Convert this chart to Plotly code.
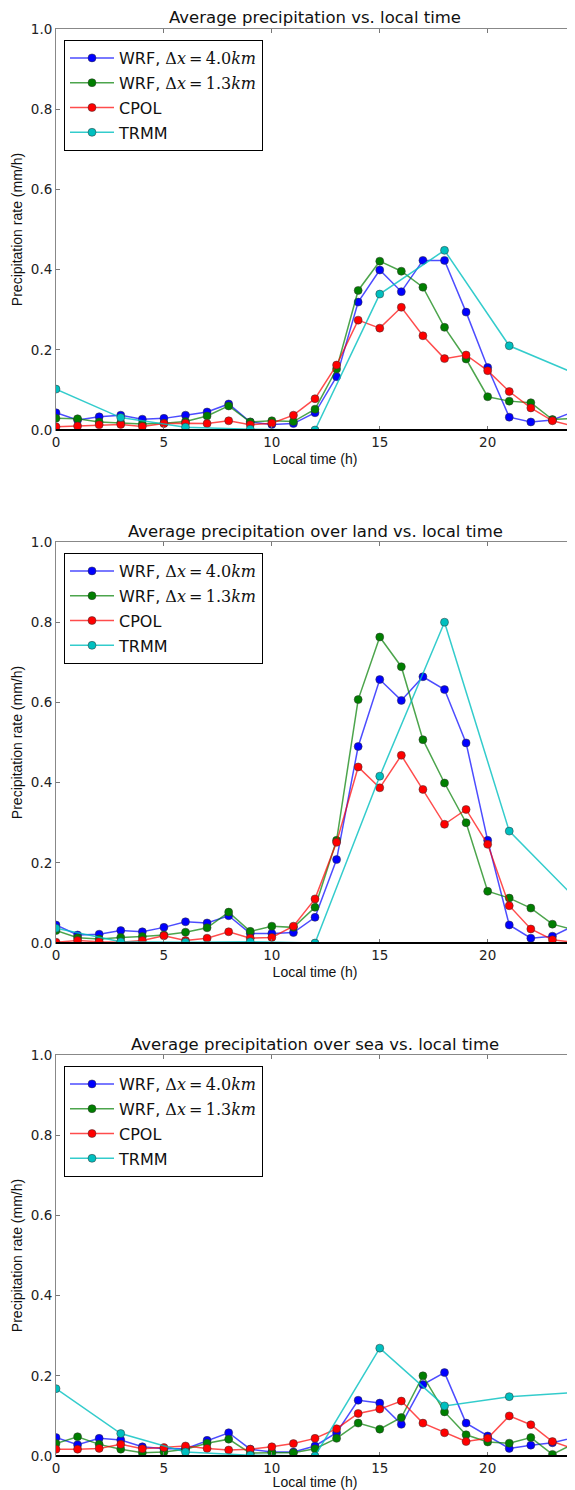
import plotly.graph_objects as go

hours = list(range(25))
trmm_hours = [0, 3, 6, 9, 12, 15, 18, 21, 24]

titles = [
    "Average precipitation vs. local time",
    "Average precipitation over land vs. local time",
    "Average precipitation over sea vs. local time",
]

# Panel 1: all
wrf40_all = [0.043, 0.025, 0.033, 0.037, 0.027, 0.029, 0.037, 0.045, 0.065, 0.020, 0.014, 0.016, 0.043,
             0.133, 0.319, 0.399, 0.345, 0.423, 0.423, 0.294, 0.156, 0.032, 0.020, 0.025, 0.046]
wrf13_all = [0.029, 0.028, 0.020, 0.018, 0.015, 0.017, 0.021, 0.035, 0.060, 0.020, 0.023, 0.021, 0.052,
             0.152, 0.348, 0.421, 0.396, 0.356, 0.256, 0.177, 0.083, 0.072, 0.068, 0.026, 0.029]
cpol_all = [0.008, 0.010, 0.013, 0.014, 0.009, 0.016, 0.017, 0.016, 0.023, 0.013, 0.017, 0.037, 0.078,
            0.162, 0.274, 0.254, 0.306, 0.235, 0.178, 0.187, 0.148, 0.096, 0.055, 0.023, 0.009]
trmm_all = [0.102, 0.031, 0.007, 0.002, 0.0, 0.339, 0.448, 0.210, 0.142]

# Panel 2: land
wrf40_land = [0.045, 0.020, 0.022, 0.031, 0.028, 0.039, 0.053, 0.050, 0.068, 0.024, 0.024, 0.026, 0.064,
              0.208, 0.490, 0.657, 0.605, 0.664, 0.632, 0.499, 0.256, 0.045, 0.012, 0.017, 0.043]
wrf13_land = [0.031, 0.013, 0.010, 0.014, 0.016, 0.020, 0.027, 0.038, 0.077, 0.029, 0.042, 0.039, 0.089,
              0.256, 0.607, 0.763, 0.689, 0.507, 0.399, 0.300, 0.129, 0.112, 0.087, 0.047, 0.033]
cpol_land = [0.002, 0.006, 0.003, 0.002, 0.006, 0.018, 0.006, 0.012, 0.028, 0.012, 0.014, 0.042, 0.110,
             0.251, 0.439, 0.387, 0.468, 0.383, 0.296, 0.333, 0.246, 0.093, 0.035, 0.008, 0.002]
trmm_land = [0.037, 0.003, 0.002, 0.003, 0.0, 0.416, 0.800, 0.279, 0.115]

# Panel 3: sea
wrf40_sea = [0.046, 0.028, 0.044, 0.040, 0.023, 0.018, 0.018, 0.039, 0.058, 0.017, 0.010, 0.010, 0.025,
             0.058, 0.139, 0.132, 0.079, 0.178, 0.208, 0.082, 0.050, 0.019, 0.027, 0.033, 0.046]
wrf13_sea = [0.031, 0.048, 0.029, 0.017, 0.008, 0.010, 0.017, 0.032, 0.042, 0.007, 0.008, 0.008, 0.018,
             0.044, 0.082, 0.067, 0.096, 0.200, 0.110, 0.053, 0.035, 0.032, 0.046, 0.004, 0.031]
cpol_sea = [0.017, 0.017, 0.019, 0.029, 0.018, 0.021, 0.025, 0.019, 0.015, 0.017, 0.023, 0.031, 0.044,
            0.068, 0.106, 0.117, 0.137, 0.082, 0.058, 0.036, 0.044, 0.100, 0.078, 0.036, 0.018]
trmm_sea = [0.168, 0.056, 0.010, 0.002, 0.0, 0.269, 0.125, 0.148, 0.158]

MATH = "<span style=\"font-family:'DejaVu Serif'\">Δ<i>x</i>\u2009=\u2009{}<i>km</i></span>"
series_names = [
    "WRF, " + MATH.format("4.0"),
    "WRF, " + MATH.format("1.3"),
    "CPOL",
    "TRMM",
]
marker_colors = ["#0000ff", "#007f00", "#ff0000", "#00bfbf"]
line_colors = ["rgba(0,0,255,0.7)", "rgba(0,127,0,0.7)", "rgba(255,0,0,0.7)", "rgba(0,191,191,0.8)"]

panels = [
    (wrf40_all, wrf13_all, cpol_all, trmm_all),
    (wrf40_land, wrf13_land, cpol_land, trmm_land),
    (wrf40_sea, wrf13_sea, cpol_sea, trmm_sea),
]

PAGE_OFF = 8  # default body margin of the html page
W, H = 575 - PAGE_OFF, 1490 - PAGE_OFF
x0_px, x1_px = 56 - PAGE_OFF, 574 - PAGE_OFF
tops = [29 - PAGE_OFF, 542 - PAGE_OFF, 1055 - PAGE_OFF]
plot_h = 401

fig = go.Figure()
layout = dict(
    template="none",
    width=W, height=H, margin=dict(l=0, r=0, t=0, b=0, autoexpand=False),
    paper_bgcolor="white", plot_bgcolor="white",
    showlegend=True, annotations=[], shapes=[],
)

for p, data in enumerate(panels):
    sfx = "" if p == 0 else str(p + 1)
    top = tops[p]
    bot = top + plot_h
    ydom = [1 - bot / H, 1 - top / H]
    xdom = [x0_px / W, x1_px / W]
    leg = "legend" if p == 0 else f"legend{p + 1}"
    for i, vals in enumerate(data):
        xs = trmm_hours if i == 3 else hours
        fig.add_trace(go.Scatter(
            x=xs, y=vals, mode="lines+markers", name=series_names[i],
            line=dict(color=line_colors[i], width=1.5),
            marker=dict(color=marker_colors[i], size=8, line=dict(color="#333333", width=0.5)),
            xaxis="x" + sfx, yaxis="y" + sfx, legend=leg, legendgroup=f"g{p}_{i}",
        ))
    layout["xaxis" + sfx] = dict(
        domain=xdom, range=[0, 24], anchor="y" + sfx, automargin=False,
        tickvals=[0, 5, 10, 15, 20], ticktext=["0", "5", "10", "15", "20"],
        ticks="inside", ticklen=4, tickcolor="#777777", mirror="ticks",
        showline=True, linecolor="#888888", linewidth=1, showgrid=False, zeroline=False,
        tickfont=dict(family="DejaVu Sans", size=13.5, color="#222222"),
        title=dict(text="Local time (h)", font=dict(family="Liberation Sans", size=14, color="#111111"), standoff=4),
    )
    layout["yaxis" + sfx] = dict(
        domain=ydom, range=[0, 1], anchor="x" + sfx, automargin=False,
        tickvals=[0, 0.2, 0.4, 0.6, 0.8, 1.0], ticktext=["0.0", "0.2", "0.4", "0.6", "0.8", "1.0"],
        ticks="inside", ticklen=4, tickcolor="#777777", mirror="ticks",
        showline=True, linecolor="#888888", linewidth=1, showgrid=False, zeroline=False,
        tickfont=dict(family="DejaVu Sans", size=13.5, color="#222222"),
        title=dict(text="Precipitation rate (mm/h)", font=dict(family="Liberation Sans", size=14, color="#111111"), standoff=4),
    )
    layout[leg] = dict(
        x=(64 - PAGE_OFF) / W, y=1 - (top + 11) / H, xanchor="left", yanchor="top",
        bordercolor="black", borderwidth=1, bgcolor="white",
        font=dict(family="DejaVu Sans", size=16, color="#111111"),
        traceorder="grouped", tracegroupgap=1, itemwidth=44,
    )
    layout["annotations"].append(dict(
        text=titles[p], xref="paper", yref="paper",
        x=(x0_px + x1_px) / 2 / W, y=1 - (top - 11) / H, xanchor="center", yanchor="middle",
        showarrow=False, font=dict(family="DejaVu Sans", size=16.5, color="#111111"),
    ))
    layout["shapes"].append(dict(
        type="line", xref="x" + sfx + " domain", yref="y" + sfx + " domain",
        x0=0, x1=1, y0=0, y1=0, line=dict(color="black", width=2), layer="above",
    ))

fig.update_layout(**layout)
fig.write_html("out.html")
